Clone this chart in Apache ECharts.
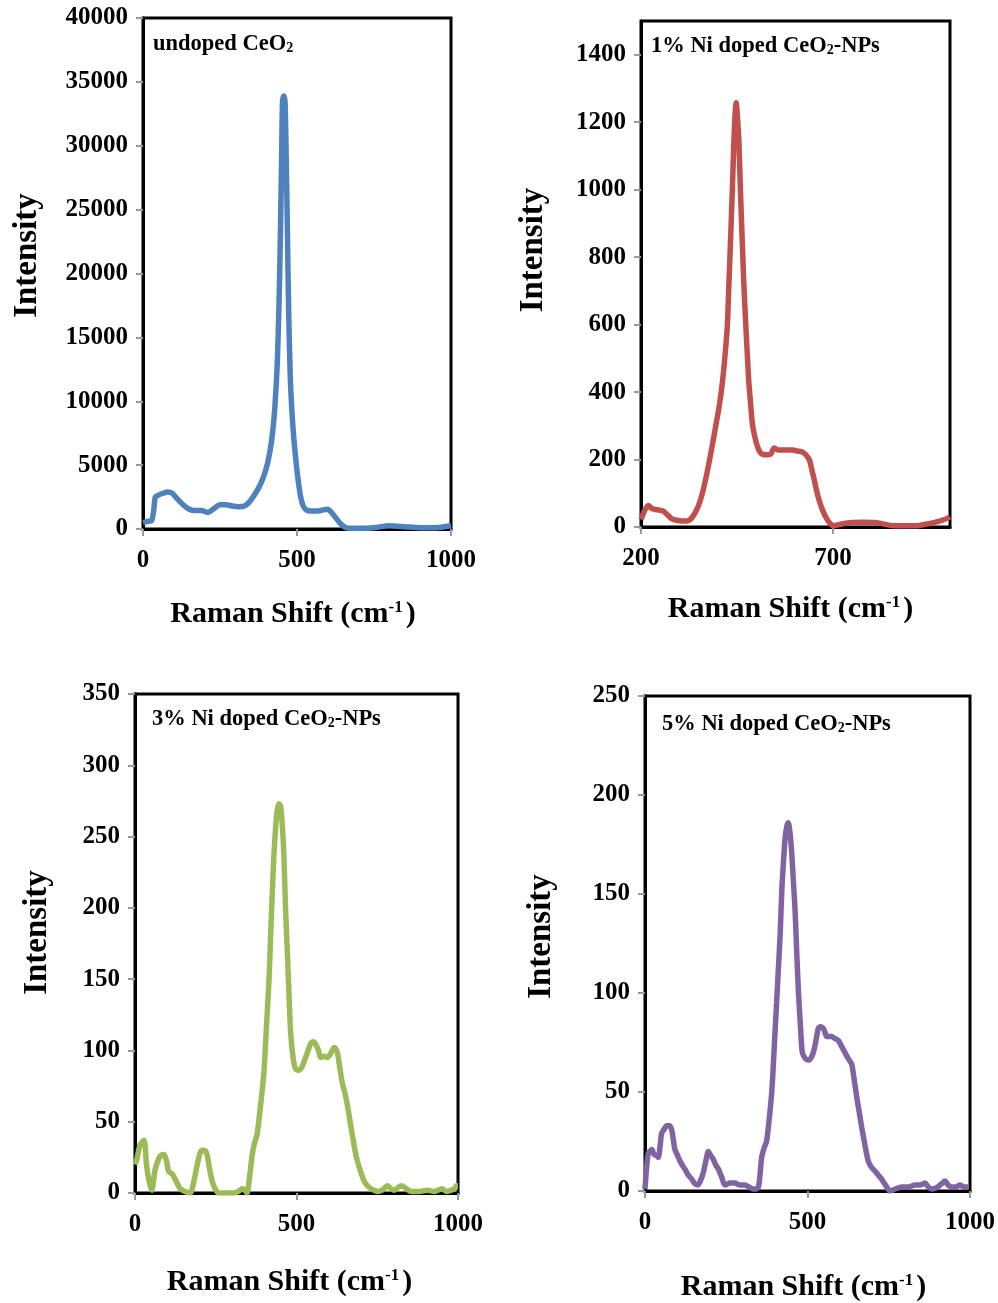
<!DOCTYPE html>
<html>
<head>
<meta charset="utf-8">
<script src="https://cdn.jsdelivr.net/npm/echarts@6/dist/echarts.min.js"></script>
<style>
html,body{margin:0;padding:0;background:#fff;}
#c{width:998px;height:1303px;}
</style>
</head>
<body>
<div id="c"></div>
<script>
// ---- Data (Raman shift cm-1, intensity) ----
const undopedCeO2 = [[0,500],[15,600],[28,650],[35,1500],[40,2500],[50,2650],[65,2800],[80,2900],[95,2800],[110,2400],[130,1900],[150,1550],[170,1450],[190,1450],[210,1300],[230,1600],[250,1900],[270,1900],[290,1800],[310,1750],[330,1800],[345,2100],[360,2600],[375,3200],[390,4000],[405,5200],[418,7000],[428,9500],[436,13000],[442,18000],[446,23000],[450,29000],[453,33500],[457,33900],[461,33500],[465,29000],[469,23000],[473,17000],[478,12000],[484,9000],[490,7000],[498,5000],[505,3600],[512,2500],[520,1800],[530,1500],[545,1400],[565,1400],[585,1500],[600,1550],[610,1350],[625,900],[640,450],[655,150],[670,50],[700,50],[750,100],[800,250],[850,180],[900,100],[950,100],[1000,250]];
const ni1 = [[200,22],[210,50],[219,64],[228,55],[237,52],[248,50],[259,46],[270,35],[280,24],[293,20],[307,18],[318,18],[328,22],[340,40],[350,64],[361,105],[372,161],[383,225],[394,295],[404,360],[412,428],[419,510],[425,598],[429,720],[433,840],[438,1000],[442,1143],[445,1220],[448,1258],[451,1220],[455,1143],[459,1000],[464,840],[468,720],[473,598],[477,510],[481,428],[486,360],[490,307],[496,270],[503,240],[510,222],[516,216],[527,214],[538,216],[543,228],[547,234],[558,228],[569,228],[582,228],[595,228],[608,225],[621,222],[631,212],[639,198],[645,170],[652,137],[658,105],[665,76],[673,50],[682,28],[690,14],[700,4],[720,8],[744,13],[780,14],[813,13],[835,8],[857,4],[890,4],[919,4],[940,8],[963,13],[985,20],[1005,30]];
const ni3 = [[0,20],[5,23],[16,34],[28,37],[36,19],[44,8],[52,2],[57,8],[62,16],[70,22],[78,26],[90,27],[98,22],[104,15],[112,14],[119,12],[130,7],[140,3],[155,1],[171,0],[182,8],[192,19],[200,27],[207,30],[215,30],[223,27],[230,18],[238,9],[248,3],[259,0],[280,0],[306,0],[320,1],[332,3],[340,2],[347,0],[355,12],[363,27],[370,35],[378,41],[389,62],[399,84],[404,104],[409,125],[415,150],[420,181],[425,210],[430,237],[435,255],[440,268],[446,273],[451,271],[456,258],[461,237],[466,200],[472,167],[477,138],[482,112],[490,94],[497,87],[505,86],[513,87],[520,90],[528,95],[536,100],[544,105],[552,106],[560,104],[568,100],[575,95],[585,96],[596,95],[606,98],[617,102],[622,101],[627,98],[634,88],[642,77],[650,70],[658,61],[666,50],[674,39],[681,30],[689,22],[700,14],[710,8],[720,5],[731,3],[740,2],[751,1],[765,2],[782,5],[792,3],[803,2],[815,4],[824,5],[840,3],[855,1],[880,1],[905,2],[927,1],[950,3],[965,1],[979,2],[990,3],[995,5],[1000,5]];
const ni5 = [[0,1],[5,12],[10,19],[15,20],[21,21],[26,19],[31,18],[36,18],[41,17],[46,22],[51,29],[58,31],[67,33],[75,33],[82,31],[87,26],[92,21],[100,18],[108,15],[115,13],[123,11],[133,8],[144,6],[152,4],[162,3],[170,5],[179,9],[187,15],[195,20],[202,18],[210,16],[218,13],[226,11],[236,7],[246,3],[262,4],[277,4],[292,3],[308,3],[320,2],[333,1],[341,1],[349,2],[355,10],[359,17],[367,22],[374,25],[382,36],[390,50],[395,64],[400,80],[405,95],[410,111],[416,130],[421,152],[426,166],[431,178],[436,184],[441,186],[446,181],[451,172],[456,158],[462,141],[467,120],[472,101],[478,84],[484,70],[493,67],[503,66],[510,67],[518,70],[525,75],[533,82],[540,83],[549,82],[554,80],[559,78],[566,78],[574,78],[585,77],[595,76],[605,73],[615,70],[625,67],[636,64],[643,57],[651,48],[659,40],[667,32],[677,23],[687,15],[697,12],[708,10],[718,8],[728,6],[740,3],[754,0],[770,1],[790,2],[810,2],[831,3],[846,3],[862,4],[872,2],[882,1],[900,2],[915,4],[923,5],[933,3],[944,2],[955,2],[969,3],[982,2],[995,2]];

const yTicks1 = [0,5000,10000,15000,20000,25000,30000,35000,40000];
const yTicks2 = [0,200,400,600,800,1000,1200,1400];
const yTicks3 = [0,50,100,150,200,250,300,350];
const yTicks4 = [0,50,100,150,200,250];
const xTicks1 = [0,500,1000];
const xTicks2 = [200,700];
const xTicks3 = [0,500,1000];
const xTicks4 = [0,500,1000];

const panelLabels = [
  ['undoped CeO', '2', ''],
  ['1% Ni doped CeO', '2', '-NPs'],
  ['3% Ni doped CeO', '2', '-NPs'],
  ['5% Ni doped CeO', '2', '-NPs']
];

// ---- Layout / style ----
const FONT = '"Liberation Serif", "Times New Roman", serif';
const colors = ['#4f81bd', '#c0504d', '#9bbb59', '#8064a2'];
const grids = [
  {left:143, top:18, width:308, height:511},
  {left:641, top:21, width:309, height:506},
  {left:135, top:694, width:323, height:499},
  {left:645, top:696, width:326, height:497}
];
const xRanges = [[0,1000],[200,1005],[0,1000],[0,1000]];
const yRanges = [[0,40000],[0,1500],[0,350],[0,250]];
const xTickSets = [xTicks1,xTicks2,xTicks3,xTicks4];
const yTickSets = [yTicks1,yTicks2,yTicks3,yTicks4];
const series = [undopedCeO2, ni1, ni3, ni5];
const yNameGap = [99, 91, 81, 87];
const yNameShift = [36, 48, 22, 14];
const xNameGap = [70, 67, 74, 81];
const xNameShift = [8, 10, 14, 8];
const titlePos = [[148,28],[646,30],[147,703],[657,708]];

const labelStyle = {fontFamily:FONT, fontWeight:'bold', fontSize:25, color:'#000', formatter:(v)=>String(v)};

const option = {
  animation:false,
  backgroundColor:'#fff',
  title: panelLabels.map((p,i)=>({
    left:titlePos[i][0], top:titlePos[i][1],
    text:'{a|'+p[0]+'}{s|'+p[1]+'}{a|'+p[2]+'}',
    textStyle:{rich:{
      a:{fontFamily:FONT,fontWeight:'bold',fontSize:22.5,color:'#000'},
      s:{fontFamily:FONT,fontWeight:'bold',fontSize:14,color:'#000',padding:[8,0,0,0]}
    }}
  })),
  grid: grids.map(g=>Object.assign({show:true, borderColor:'#000', borderWidth:3, backgroundColor:'transparent'}, g)),
  xAxis: grids.map((g,i)=>({
    type:'value', gridIndex:i, min:xRanges[i][0], max:xRanges[i][1],
    name:'{n|Raman Shift (cm}{p|-1}{n|)}', nameLocation:'middle', nameGap:xNameGap[i],
    nameTextStyle:{padding:[0,xNameShift[i],0,0],rich:{
      n:{fontFamily:FONT,fontWeight:'bold',fontSize:30,color:'#000'},
      p:{fontFamily:FONT,fontWeight:'bold',fontSize:17,color:'#000',padding:[0,3,13,0]}
    }},
    axisLine:{show:true,lineStyle:{color:'#000',width:3}},
    axisTick:{show:true,length:7,lineStyle:{color:'#999',width:2},customValues:xTickSets[i]},
    axisLabel:Object.assign({margin:19,customValues:xTickSets[i]},labelStyle),
    splitLine:{show:false}
  })),
  yAxis: grids.map((g,i)=>({
    type:'value', gridIndex:i, min:yRanges[i][0], max:yRanges[i][1],
    name:'Intensity', nameLocation:'middle', nameGap:yNameGap[i],
    nameTextStyle:{fontFamily:FONT,fontWeight:'bold',fontSize:33,color:'#000',padding:[0,0,0,yNameShift[i]]},
    axisLine:{show:true,lineStyle:{color:'#000',width:3}},
    axisTick:{show:true,length:7,lineStyle:{color:'#999',width:2},customValues:yTickSets[i]},
    axisLabel:Object.assign({margin:15,customValues:yTickSets[i]},labelStyle),
    splitLine:{show:false}
  })),
  series: series.map((d,i)=>({
    type:'line', xAxisIndex:i, yAxisIndex:i, data:d,
    showSymbol:false, smooth:0.25,
    lineStyle:{color:colors[i], width:5.5},
    itemStyle:{color:colors[i]}
  }))
};

const chart = echarts.init(document.getElementById('c'), null, {renderer:'canvas'});
chart.setOption(option);
</script>
</body>
</html>
